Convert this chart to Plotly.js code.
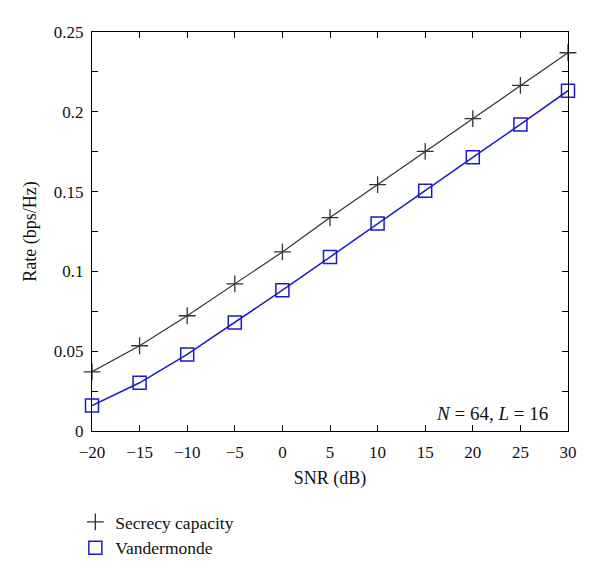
<!DOCTYPE html>
<html><head><meta charset="utf-8">
<script src="https://cdn.plot.ly/plotly-3.0.1.min.js"></script>
<style>body{margin:0;background:#fff}#c{width:600px;height:573px}</style>
</head><body><div id="c"></div>
<script>
const snr = [-20, -15, -10, -5, 0, 5, 10, 15, 20, 25, 30];
const secrecy = [0.0371, 0.0534, 0.0722, 0.0922, 0.1122, 0.1337, 0.1544, 0.1752, 0.1957, 0.2165, 0.2370];
const vandermonde = [0.0159, 0.0302, 0.0480, 0.0680, 0.0882, 0.1090, 0.1300, 0.1506, 0.1715, 0.1921, 0.2132];
const xTickVals = [-20, -15, -10, -5, 0, 5, 10, 15, 20, 25, 30];
const xTickText = ['\u221220', '\u221215', '\u221210', '\u22125', '0', '5', '10', '15', '20', '25', '30'];
const yTickVals = [0, 0.025, 0.05, 0.075, 0.1, 0.125, 0.15, 0.175, 0.2, 0.225, 0.25];
const yTickText = ['0', '', '0.05', '', '0.1', '', '0.15', '', '0.2', '', '0.25'];
const seriesNames = ['Secrecy capacity', 'Vandermonde'];

const FAM = '"Liberation Serif", serif';
const font = {family: FAM, size: 17, color: '#111'};
const titleFont = {family: FAM, size: 18, color: '#111'};
const c1 = '#333333', c2 = '#1a1acc';
const traces = [
  {x: snr, y: secrecy, mode: 'lines', showlegend: false, line: {color: c1, width: 1.2}},
  {x: snr, y: vandermonde, mode: 'lines', showlegend: false, line: {color: c2, width: 1.5}},
  {x: snr, y: secrecy, name: seriesNames[0], mode: 'markers', cliponaxis: false,
   marker: {symbol: 'cross-thin-open', size: 12, line: {color: c1, width: 1.3}, color: c1}},
  {x: snr, y: vandermonde, name: seriesNames[1], mode: 'markers', cliponaxis: false,
   marker: {symbol: 'square-open', size: 13, line: {color: c2, width: 1.5}, color: c2}}
];
const axisCommon = {showline: true, linecolor: '#000', linewidth: 1.2, mirror: 'ticks', ticks: 'inside',
  ticklen: 6, tickwidth: 1, tickcolor: '#000', showgrid: false, zeroline: false, tickfont: font};
const layout = {
  width: 600, height: 573,
  margin: {l: 92, r: 32, t: 31.5, b: 142, autoexpand: false},
  paper_bgcolor: '#fff', plot_bgcolor: '#fff',
  font: font,
  xaxis: Object.assign({}, axisCommon, {range: [-20, 30], tickmode: 'array', tickvals: xTickVals, ticktext: xTickText,
    ticklabelstandoff: 5, title: {text: 'SNR (dB)', font: titleFont, standoff: 10}}),
  yaxis: Object.assign({}, axisCommon, {range: [0, 0.25], tickmode: 'array', tickvals: yTickVals, ticktext: yTickText,
    ticklabelstandoff: 4, title: {text: 'Rate (bps/Hz)', font: titleFont, standoff: 12}}),
  showlegend: true,
  legend: {x: -0.035, y: -0.183, xanchor: 'left', yanchor: 'top', font: {family: FAM, size: 17.5, color: '#111'},
    bgcolor: 'rgba(0,0,0,0)', itemwidth: 30, tracegroupgap: 0},
  annotations: [{xref: 'paper', yref: 'paper', x: 0.962, y: 0.012, xanchor: 'right', yanchor: 'bottom', showarrow: false,
    text: '<i>N</i> = 64, <i>L</i> = 16', font: {family: FAM, size: 19, color: '#111'}}]
};
Plotly.newPlot('c', traces, layout, {displayModeBar: false, staticPlot: true});
</script></body></html>
